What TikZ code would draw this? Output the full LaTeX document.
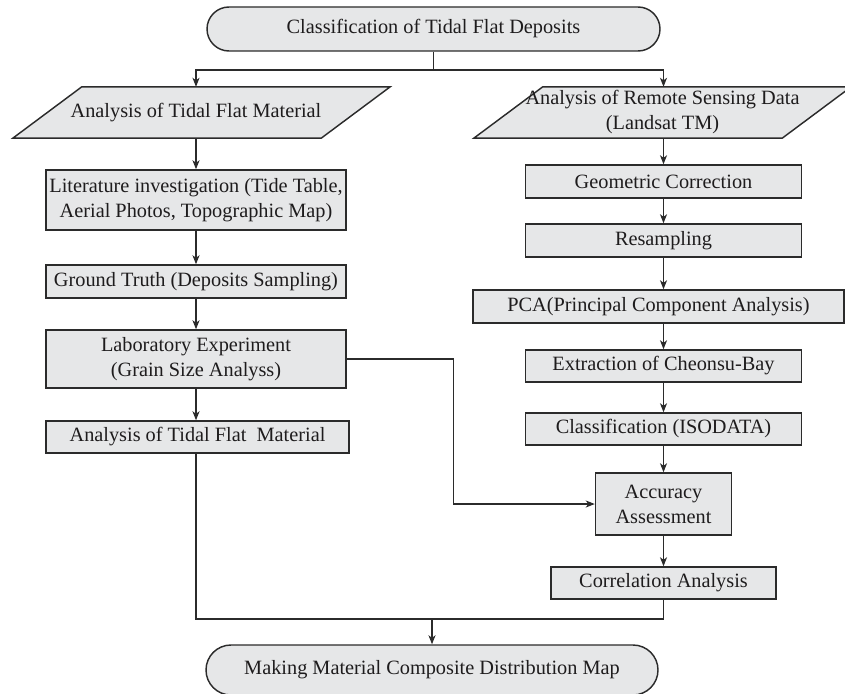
\documentclass[tikz,border=0pt]{standalone}
\usepackage{fontspec}
\setmainfont{Liberation Serif}
\usetikzlibrary{arrows.meta}
\pgfdeclarelayer{background}
\pgfsetlayers{background,main}
\definecolor{boxfill}{HTML}{E6E7E8}
\definecolor{ink}{HTML}{1E1C1D}
\definecolor{linec}{HTML}{2B2B2B}
\begin{document}
\begin{tikzpicture}[x=1pt,y=-1pt,
  every node/.style={font=\fontsize{20.3}{25}\selectfont, text=ink},
  box/.style={draw=linec, line width=1.45pt, fill=boxfill, align=center, inner sep=0pt, minimum height=33pt},
  term/.style={box, rounded corners=22pt, minimum height=44pt},
  para/.style={align=center, inner sep=0pt, minimum width=308pt, minimum height=51pt},
  parashape/.style={draw=linec, line width=1.45pt, fill=boxfill},
  conn/.style={draw=linec, line width=1.2pt},
  arr/.style={conn, -{Stealth[length=9pt,width=7pt,inset=2.5pt]}}
]
\useasboundingbox (0,0) rectangle (845,693);

% terminals
\node[term, minimum width=453pt] (top) at (433.5,29) {Classification of Tidal Flat Deposits};
\node[term, minimum width=452pt, minimum height=50pt, rounded corners=25pt] (bot) at (432,670) {Making Material Composite Distribution Map};

% parallelograms
\node[para] (p1) at (196,112.5) {Analysis of Tidal Flat Material};
\node[para] (p2) at (662.5,112.5) {Analysis of Remote Sensing Data\\(Landsat TM)};
\begin{pgfonlayer}{background}
\path[parashape] ([xshift=-29pt]p1.south west) -- ([xshift=-29pt]p1.south east) -- ([xshift=40pt]p1.north east) -- ([xshift=40pt]p1.north west) -- cycle;
\path[parashape] ([xshift=-34.5pt]p2.south west) -- ([xshift=-34.5pt]p2.south east) -- ([xshift=34.5pt]p2.north east) -- ([xshift=34.5pt]p2.north west) -- cycle;
\end{pgfonlayer}

% left column
\node[box, minimum width=300pt, minimum height=60pt] (lit) at (196,200) {Literature investigation (Tide Table,\\Aerial Photos, Topographic Map)};
\node[box, minimum width=300pt] (gt) at (196,281.5) {Ground Truth (Deposits Sampling)};
\node[box, minimum width=300pt, minimum height=58pt] (lab) at (196,359) {Laboratory Experiment\\(Grain Size Analyss)};
\node[box, minimum width=303pt, minimum height=32pt] (atf) at (197.5,437) {Analysis of Tidal Flat\ \ Material};

% right column
\node[box, minimum width=276pt] (geo) at (663.5,181.5) {Geometric Correction};
\node[box, minimum width=276pt] (res) at (663.5,240.5) {Resampling};
\node[box, minimum width=371pt] (pca) at (658.5,306.5) {PCA(Principal Component Analysis)};
\node[box, minimum width=276pt, minimum height=32pt] (ext) at (663.5,366) {Extraction of Cheonsu-Bay};
\node[box, minimum width=276pt, minimum height=32pt] (cls) at (663.5,429) {Classification (ISODATA)};
\node[box, minimum width=136pt, minimum height=62pt] (acc) at (663.5,504) {Accuracy\\Assessment};
\node[box, minimum width=225pt, minimum height=32pt] (cor) at (663.5,583) {Correlation Analysis};

% connectors
\coordinate (j1) at (433.5,70);
\draw[conn] (top.south) -- (j1);
\draw[arr] (j1) -| (p1.north -| lit.north);
\draw[arr] (j1) -| (p2.north -| geo.north);

\draw[arr] (p1.south -| lit.north) -- (lit.north);
\draw[arr] (lit.south) -- (gt.north);
\draw[arr] (gt.south) -- (lab.north);
\draw[arr] (lab.south) -- (lab.south |- atf.north);

\draw[arr] (p2.south -| geo.north) -- (geo.north);
\draw[arr] (geo.south) -- (res.north);
\draw[arr] (res.south) -- (res.south |- pca.north);
\draw[arr] (ext.north |- pca.south) -- (ext.north);
\draw[arr] (ext.south) -- (cls.north);
\draw[arr] (cls.south) -- (acc.north);
\draw[arr] (acc.south) -- (cor.north);

\draw[arr] (lab.east) -- ++(107,0) |- (acc.west);

\coordinate (j2) at (432,619);
\draw[conn] (lab.south |- atf.south) |- (j2) -| (cor.south);
\draw[arr] (j2) -- (bot.north);
\end{tikzpicture}
\end{document}
